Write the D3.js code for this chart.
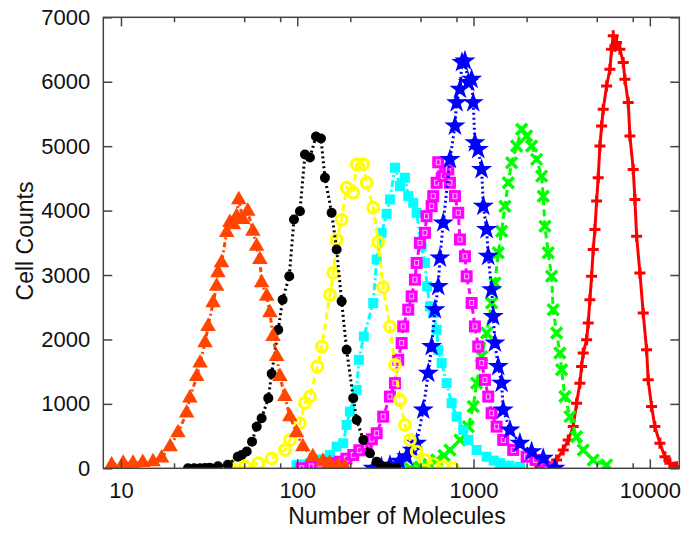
<!DOCTYPE html>
<html><head><meta charset="utf-8">
<script src="https://cdn.jsdelivr.net/npm/d3@7"></script>
<style>body{margin:0;background:#fff}svg{display:block}text{font-family:"Liberation Sans",Arial,sans-serif;fill:#111}</style>
</head><body><svg id="c" width="683" height="536"></svg>
<script>
// ---- data (Number of Molecules vs Cell Counts) ----
const orangeX = [8.85,10.3,11.7,13.3,15.2,17.0,19.0,21.05,23.6,24.6,26.9,28.1,30.0,31.2,33.3,34.9,35.5,37.2,39.8,41.5,43.5,45.3,46.6,49.1,52.4,56.0,58.8,61.4,62.8,67.1,70.0,72.9,76.4,79.8,85.1,90.8,99.1,107.6,122.6,140,152.5,170,186];
const orangeY = [50,80,80,90,100,160,335,550,860,1090,1425,1635,1950,2200,2570,2825,3035,3190,3660,3815,3780,3910,4170,3860,3990,3680,3445,3240,2880,2670,2415,2045,1735,1425,1115,800,550,335,180,110,80,40,20];
const blackX = [24.0,26.0,28.1,30.0,31.9,35.5,40.4,46.0,48.4,51.7,55.4,58.9,62.8,68.5,71.6,78.0,82.6,90.1,95.8,103.6,110.6,118.0,127.7,136.3,143.6,156.7,167.3,178.6,190.6,207.8,217.3,236.8,258.5,282.1,300,328.3,366.4];
const blackY = [0,0,0,5,10,30,55,180,207,260,414,647,778,1089,1467,2150,2617,2980,3862,3990,4870,4824,5150,5120,4510,3966,3395,2591,1840,1089,751,440,233,103,40,20,5];
const yellowX = [35.6,42,50.5,60,71.6,85.2,90.9,103.6,110.6,118.0,130,138,153.3,160.1,167.3,178.6,190.6,207.8,217.3,236.8,247.6,269.8,288.0,307.4,335.6,358.3,382.4,408.2,435.8,475.6,530.1,590.8,673.2,767.2];
const yellowY = [0,10,25,80,155,285,440,700,1015,1113,1580,1890,2695,3032,3550,3861,4355,4277,4717,4717,4432,4044,3510,2810,2200,1605,1060,670,440,260,130,70,25,0];
const cyanX = [99.1,108,118,135,153.3,167.3,182.3,190.6,199.1,217.3,223.6,238.7,269.8,282.1,301.1,321.4,335.6,358.3,382.4,408.2,426.3,455.0,475.6,507.6,530.1,545.6,565.7,590.8,617.6,630.6,659.2,703.8,751.4,802.0,874.2,933.3,1041.4,1186.8,1300,1411.7,1600,1833.4];
const cyanY = [50,60,80,140,207,336,389,673,880,1218,1684,2047,2566,3240,3655,3950,4173,4666,4380,4510,4224,4121,3966,3446,3188,2824,2513,2410,2151,1840,1633,1322,1011,802,596,440,285,180,120,80,40,20];
const magentaX = [105.9,120,134.5,155,174.6,190,207.8,225,247.6,265,282.1,307.4,335.6,358.3,374.0,391.0,399.3,426.3,445.6,465.2,475.6,496.6,530.1,541.4,578.5,590.8,617.6,630.6,673.2,718.9,734.9,784.6,819.1,837.5,894.0,914.2,975.4,1018.5,1063.4,1111.8,1160.8,1211.9,1266.9,1352.2,1474.0,1679.6,2001,2250,2485,2642];
const magentaY = [0,30,60,80,103,150,207,280,362,450,544,802,1113,1322,1684,1944,2202,2462,2669,2928,3188,3499,3655,3913,4068,4224,4432,4750,4535,4639,4432,4224,3966,3551,3291,2980,2566,2202,1891,1633,1373,1113,855,647,440,285,180,130,103,0];
const blueX = [269.8,300,335.6,380,417.5,450,475.6,518.5,553.5,578.5,604.0,630.6,644.8,673.2,734.9,784.6,802.0,837.5,860.0,894.0,934.3,975.4,996.1,1018.5,1063.4,1111.8,1136.6,1186.8,1211.9,1266.9,1293.3,1322.4,1380.6,1443.5,1474.0,1608.9,1833.4,2136,2485,2895];
const blueY = [0,20,50,110,180,280,389,907,1477,1891,2462,2824,3266,3810,4795,5313,5676,5883,6298,6324,5988,6039,5676,5054,4950,4639,4068,3706,3291,2773,2358,1944,1580,1322,907,596,389,259,155,0];
const greenX = [435.8,500,560,617.6,680,734.9,837.5,934.3,996.1,1041.4,1111.8,1186.8,1266.9,1322.4,1380.6,1443.5,1507.3,1573.6,1645.1,1756.3,1874.5,2001,2136,2280,2434,2485,2541,2653,2773,2831,2960,3090,3160,3299,3523,3843,4190,4775,5687];
const greenY = [0,20,60,130,200,285,440,647,958,1322,1736,2100,2566,2877,3344,3680,4068,4432,4743,5002,5261,5157,5002,4795,4535,4224,3757,3344,2980,2462,2100,1789,1529,1113,802,491,285,130,52];
const redX = [2380,2713,2960,3227,3445,3678,3843,4013,4103,4190,4380,4473,4573,4676,4775,4882,4991,5097,5212,5329,5441,5687,5939,6072,6200,6330,6482,6767,7067,7225,7544,7713,8053,8234,8418,8788,9175,9590,9793,10237,10688,11410,12180,13002,14191];
const redY = [25,25,130,285,440,647,1011,1322,1580,1788,1996,2255,2617,2980,3395,3706,4147,4510,5002,5313,5572,5935,6194,6505,6712,6550,6609,6505,6298,6039,5676,5157,4639,4173,3602,3032,2410,1840,1373,958,647,389,180,78,25];
const xMajorTicks = [10,100,1000,10000];
const xMinorTicks = [20,50,80,200,500,800,2000,5000,8000];
const yTicks = [0,1000,2000,3000,4000,5000,6000,7000];
const xLabel = "Number of Molecules";
const yLabel = "Cell Counts";

// ---- layout ----
const L = 103.3, R = 679.3, T = 17.3, B = 468.3;
const x = d3.scaleLog().domain([7.94, 14700]).range([L, R]);
const y = d3.scaleLinear().domain([0, 7000]).range([B, T]);
const svg = d3.select("#c");

svg.append("defs").append("clipPath").attr("id","clip")
  .append("rect").attr("x",L).attr("y",T-14).attr("width",R-L).attr("height",B-T+14);

const series = [
  {xs:redX, ys:redY, color:"#ff0000", dash:null, mark:"plus"},
  {xs:greenX, ys:greenY, color:"#00ff00", dash:"7,4", mark:"x"},
  {xs:cyanX, ys:cyanY, color:"#00ffff", dash:"7,3,2,3", mark:"sq"},
  {xs:magentaX, ys:magentaY, color:"#ff00ff", dash:"6,4", mark:"osq"},
  {xs:blueX, ys:blueY, color:"#0000ff", dash:"2,3", mark:"star"},
  {xs:yellowX, ys:yellowY, color:"#ffff00", dash:"7,4", mark:"ring"},
  {xs:blackX, ys:blackY, color:"#000000", dash:"2,3", mark:"dot"},
  {xs:orangeX, ys:orangeY, color:"#ff4500", dash:"5,3,2,3", mark:"tri"}
];

const g = svg.append("g").attr("clip-path","url(#clip)");
const line = d3.line().x(d=>x(d[0])).y(d=>y(d[1]));
series.forEach(s => {
  const pts = s.xs.map((v,i)=>[v, s.ys[i]]);
  const sg = g.append("g");
  sg.append("path").attr("d", line(pts)).attr("fill","none")
    .attr("stroke", s.color).attr("stroke-width", 3)
    .attr("stroke-dasharray", s.dash);
  const m = sg.selectAll("g.m").data(pts).join("g")
    .attr("transform", d=>`translate(${x(d[0])},${y(d[1])})`);
  if (s.mark==="plus") {
    m.append("path").attr("d","M-5.5,0H5.5M0,-5.5V5.5").attr("stroke",s.color).attr("stroke-width",3);
  } else if (s.mark==="x") {
    m.append("path").attr("d","M-5.5,-5.5L5.5,5.5M-5.5,5.5L5.5,-5.5").attr("stroke",s.color).attr("stroke-width",3.5);
  } else if (s.mark==="sq") {
    m.append("rect").attr("x",-5).attr("y",-5).attr("width",10).attr("height",10).attr("fill",s.color);
  } else if (s.mark==="osq") {
    m.append("rect").attr("x",-6).attr("y",-6).attr("width",12).attr("height",12).attr("fill",s.color);
    m.append("rect").attr("x",-2).attr("y",-2.5).attr("width",4).attr("height",5).attr("fill","none").attr("stroke","#ffc0ff").attr("stroke-width",1);
  } else if (s.mark==="star") {
    m.append("path").attr("d", d3.symbol(d3.symbolStar, 140)()).attr("fill",s.color);
    m.append("circle").attr("r",4.6).attr("fill",s.color);
  } else if (s.mark==="ring") {
    m.append("circle").attr("r",5.3).attr("fill","none").attr("stroke",s.color).attr("stroke-width",3.2);
  } else if (s.mark==="dot") {
    m.append("circle").attr("r",5).attr("fill",s.color);
  } else if (s.mark==="tri") {
    m.append("path").attr("d", d3.symbol(d3.symbolTriangle, 105)()).attr("fill",s.color);
  }
});

// ---- axes & frame ----
const axCol = "#444";
const allX = xMajorTicks.concat(xMinorTicks);
function styleAxis(sel){ sel.select(".domain").remove(); sel.selectAll("line").attr("stroke",axCol).attr("stroke-width",1.5); }
const axB = svg.append("g").attr("transform",`translate(0,${B})`)
  .call(d3.axisBottom(x).tickValues(allX).tickSizeInner(-5).tickSizeOuter(0).tickPadding(14)
    .tickFormat(d => xMajorTicks.includes(d) ? String(d) : ""));
styleAxis(axB);
axB.selectAll(".tick").filter(d=>xMajorTicks.includes(d)).select("line").attr("y2",-9);
axB.selectAll("text").attr("font-size",22).attr("fill","#111").attr("font-family","Liberation Sans, Arial, sans-serif");
const axT = svg.append("g").attr("transform",`translate(0,${T})`)
  .call(d3.axisTop(x).tickValues(allX).tickSizeInner(-5).tickSizeOuter(0).tickFormat(""));
styleAxis(axT);
axT.selectAll(".tick").filter(d=>xMajorTicks.includes(d)).select("line").attr("y2",9);

const axL = svg.append("g").attr("transform",`translate(${L},0)`)
  .call(d3.axisLeft(y).tickValues(yTicks).tickSizeInner(-9).tickSizeOuter(0).tickPadding(13).tickFormat(d3.format("d")));
styleAxis(axL);
axL.selectAll("text").attr("font-size",22).attr("fill","#111").attr("font-family","Liberation Sans, Arial, sans-serif");
const axR = svg.append("g").attr("transform",`translate(${R},0)`)
  .call(d3.axisRight(y).tickValues(yTicks).tickSizeInner(-9).tickSizeOuter(0).tickFormat(""));
styleAxis(axR);

svg.append("rect").attr("x",L).attr("y",T).attr("width",R-L).attr("height",B-T)
  .attr("fill","none").attr("stroke",axCol).attr("stroke-width",1.5);

svg.append("text").attr("x",397).attr("y",524).attr("text-anchor","middle").attr("font-size",23).text(xLabel);
svg.append("text").attr("transform","translate(33,241) rotate(-90)").attr("text-anchor","middle").attr("font-size",23).text(yLabel);
</script></body></html>
